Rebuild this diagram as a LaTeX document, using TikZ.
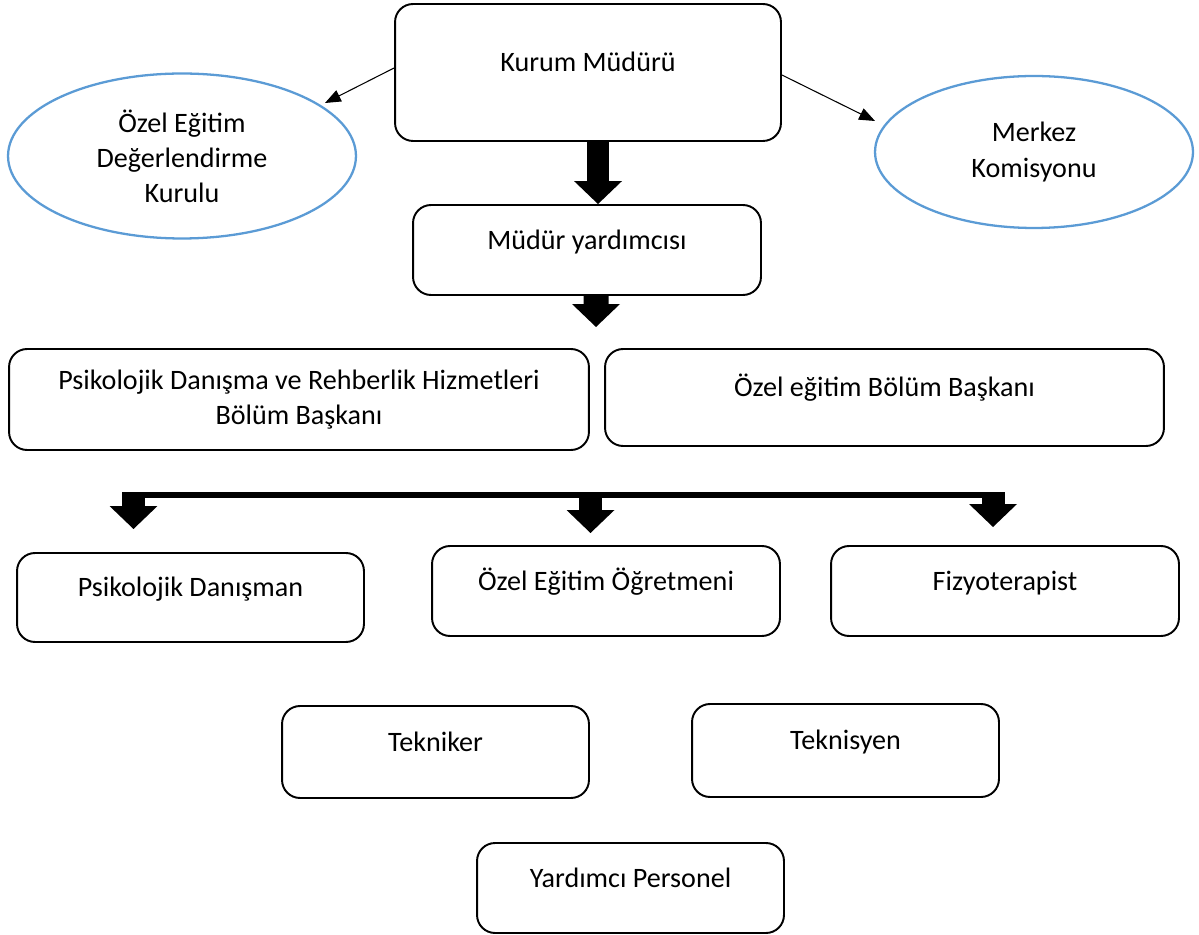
\documentclass[tikz,border=0pt]{standalone}
\usepackage{fontspec}
\setmainfont{Carlito}
\usepackage{tikz}
\usetikzlibrary{shapes.geometric,arrows.meta}
\definecolor{kurulmavi}{HTML}{5B9BD5}
\tikzset{
  orgkutu/.style={draw, line width=1.1pt, rounded corners=0.36cm, inner sep=0pt,
    font=\fontsize{16}{20}\selectfont, text height=12pt, text depth=13pt},
  orgelips/.style={ellipse, draw=kurulmavi, line width=1.3pt, inner sep=-6pt, align=center,
    font=\fontsize{16}{20}\selectfont},
  kalinok/.style={line width=#1, -{Triangle[width=0.96cm, length=0.46cm, line width=0pt]}},
}
\newcommand{\orgbox}[6][] {\node at (#2) (#3) [orgkutu, minimum width=#4cm, minimum height=#5cm, #1] {#6};}
\newcommand{\orgellipse}[5] {\node at (#1) (#2) [orgelips, minimum width=#3cm, minimum height=#4cm] {#5};}
\newcommand{\orgthinarrow}[2] {\draw [line width=0.6pt, -{Triangle[length=9pt, width=7pt]}] (#1) -- (#2);}
\newcommand{\orgblockarrow}[3] {\draw [kalinok=#3] (#1) -- (#2);}

\begin{document}
\begin{tikzpicture}[x=0.02cm, y=-0.02cm]
\useasboundingbox (0,0) rectangle (1199,935);

\orgbox {588,72.5} {kurum} {7.72} {2.74} {Kurum Müdürü};
\orgellipse {182,156} {kurul} {6.96} {3.3} {Özel Eğitim\\Değerlendirme\\Kurulu};
\orgellipse {1034,152} {merkez} {6.36} {3.04} {Merkez\\Komisyonu};
\orgbox {587,250} {myard} {6.96} {1.8} {Müdür yardımcısı};
\orgbox[align=center, text height=, text depth=] {299,399.5} {pdr} {11.6} {2.02} {Psikolojik Danışma ve Rehberlik Hizmetleri\\Bölüm Başkanı};
\orgbox {884.5,397.5} {ozbb} {11.18} {1.94} {Özel eğitim Bölüm Başkanı};
\orgbox {190.5,597.5} {pdan} {6.94} {1.78} {Psikolojik Danışman};
\orgbox {606,591} {ogret} {6.96} {1.8} {Özel Eğitim Öğretmeni};
\orgbox {1005,591} {fizyo} {6.96} {1.8} {Fizyoterapist};
\orgbox {435.5,752} {tekniker} {6.14} {1.84} {Tekniker};
\orgbox {845.5,750.5} {teknisyen} {6.14} {1.86} {Teknisyen};
\orgbox {630.5,888} {yardper} {6.14} {1.8} {Yardımcı Personel};

% ince oklar
\coordinate (kurulok) at (325,103);
\coordinate (merkezok) at (875,121);
\orgthinarrow {[yshift=0.09cm]kurum.west} {kurulok};
\orgthinarrow {[yshift=-0.05cm]kurum.east} {merkezok};

% kalin oklar
\coordinate (ok2) at (596,327);
\orgblockarrow {[xshift=0.2cm]kurum.south} {[xshift=0.22cm]myard.north} {0.44cm};
\orgblockarrow {[xshift=0.18cm]myard.south} {ok2} {0.5cm};

% dagitim cubugu
\coordinate (cubuksol) at (122,495);
\coordinate (cubuksag) at (1004,495);
\coordinate (d1) at (133.5,492);
\coordinate (d2) at (590.5,492);
\coordinate (d3) at (993,492);
\coordinate (u1) at (133.5,529);
\coordinate (u2) at (590.5,533);
\coordinate (u3) at (993,527);
\draw [line width=0.12cm] (cubuksol) -- (cubuksag);
\orgblockarrow {d1} {u1} {0.46cm};
\orgblockarrow {d2} {u2} {0.46cm};
\orgblockarrow {d3} {u3} {0.46cm};

\end{tikzpicture}
\end{document}
